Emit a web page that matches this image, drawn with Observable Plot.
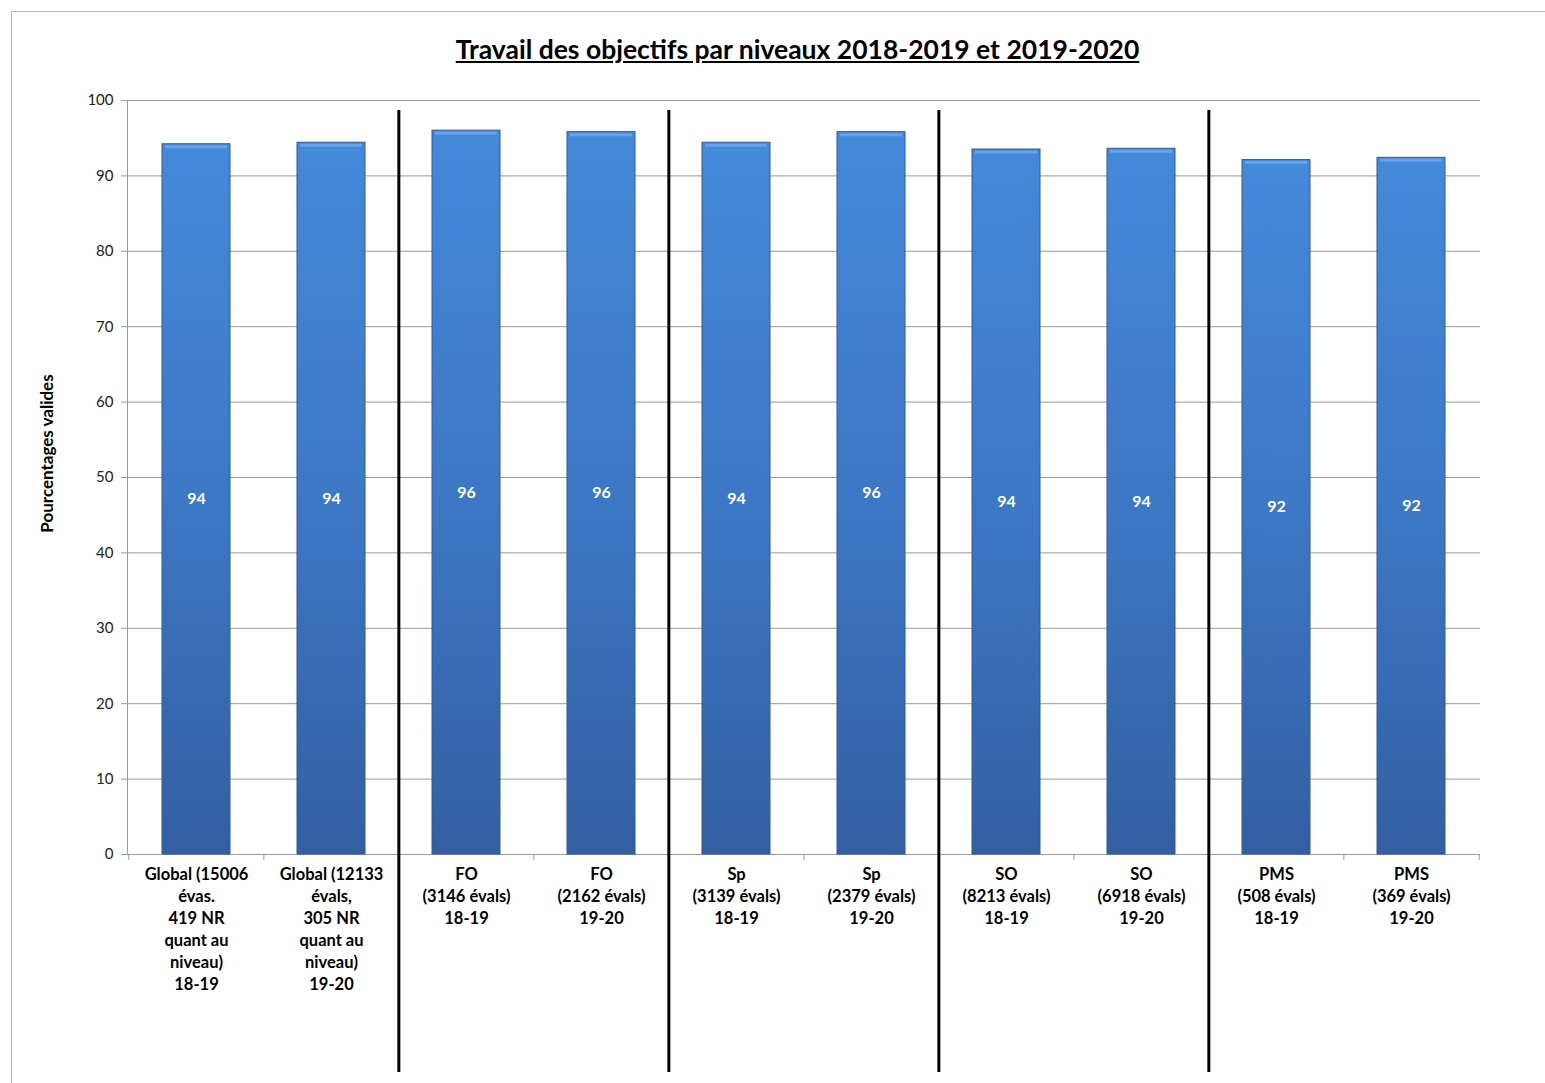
<!DOCTYPE html>
<html><head><meta charset="utf-8">
<script src="https://cdn.jsdelivr.net/npm/d3@7"></script>
<script src="https://cdn.jsdelivr.net/npm/@observablehq/plot@0.6"></script>
<style>
body{margin:0;background:#fff;font-family:Lato,"Open Sans",sans-serif;}
#wrap{position:relative;width:1545px;height:1083px;overflow:hidden;}
#border{position:absolute;left:11px;top:11px;width:1600px;height:1200px;border-top:1px solid #b8b8b8;border-left:1px solid #b8b8b8;pointer-events:none;}
#title{height:90px;box-sizing:border-box;padding-top:34px;padding-left:50px;text-align:center;font-size:26.5px;line-height:30px;font-weight:bold;text-decoration:underline;color:#000;}
</style></head>
<body>
<svg width="0" height="0" style="position:absolute">
  <defs>
    <linearGradient id="barGrad" x1="0" y1="0" x2="0" y2="1">
      <stop offset="0" stop-color="#4489da"/>
      <stop offset="0.5" stop-color="#3d78c6"/>
      <stop offset="1" stop-color="#335fa2"/>
    </linearGradient>
  </defs>
</svg>
<div id="wrap">
  <div id="border"></div>
  <div id="title">Travail des objectifs par niveaux 2018-2019 et 2019-2020</div>
  <div id="chart"></div>
</div>
<script>
const categories = [
  "Global (15006\névas.\n419 NR\nquant au\nniveau)\n18-19",
  "Global (12133\névals,\n305 NR\nquant au\nniveau)\n19-20",
  "FO\n(3146 évals)\n18-19",
  "FO\n(2162 évals)\n19-20",
  "Sp\n(3139 évals)\n18-19",
  "Sp\n(2379 évals)\n19-20",
  "SO\n(8213 évals)\n18-19",
  "SO\n(6918 évals)\n19-20",
  "PMS\n(508 évals)\n18-19",
  "PMS\n(369 évals)\n19-20"
];
const values = [94.2, 94.4, 96.0, 95.8, 94.4, 95.8, 93.5, 93.6, 92.1, 92.4];
const valueLabels = ["94", "94", "96", "96", "94", "96", "94", "94", "92", "92"];
const groupStarts = [categories[2], categories[4], categories[6], categories[8]];
const yTicks = [0, 10, 20, 30, 40, 50, 60, 70, 80, 90, 100];
const yLabel = "Pourcentages valides";

const data = categories.map((c, i) => ({cat: c, value: values[i], label: valueLabels[i]}));

const W = 1545, H = 993, mL = 127, mR = 65, mT = 10, mB = 229;
const step = (W - mL - mR) / categories.length;

const chart = Plot.plot({
  width: W, height: H,
  marginLeft: mL, marginRight: mR, marginTop: mT, marginBottom: mB,
  style: {fontFamily: "Lato, 'Open Sans', sans-serif", background: "transparent", overflow: "visible"},
  x: {domain: categories, paddingInner: 0.5, paddingOuter: 0.25},
  y: {domain: [0, 100], ticks: yTicks},
  marks: [
    Plot.gridY(yTicks, {stroke: "#9a9a9a", strokeOpacity: 1, strokeWidth: 1}),
    Plot.axisY(yTicks, {tickSize: 6, tickPadding: 8, stroke: "#9a9a9a", fill: "#222", fontSize: 15, label: null}),
    Plot.axisX({tickSize: 0, tickPadding: 10, fontSize: 16.5, fontWeight: "bold", fill: "#000", lineHeight: 1.33, label: null}),
    Plot.frame({anchor: "left", stroke: "#9a9a9a"}),
    Plot.ruleY([0], {stroke: "#9a9a9a"}),
    Plot.ruleX(categories, {x: d => d, y1: 0, y2: 0, dx: -step / 2, insetBottom: -6, stroke: "#9a9a9a"}),
    Plot.ruleX(categories.slice(-1), {x: d => d, y1: 0, y2: 0, dx: step / 2, insetBottom: -6, stroke: "#9a9a9a"}),
    Plot.barY(data, {x: "cat", y: "value", fill: "url(#barGrad)", stroke: "#2f5b99", strokeWidth: 1}),
    Plot.tickY(data, {x: "cat", y: "value", stroke: "#64a2ea", strokeWidth: 3, dy: 2.5, inset: 3}),
    Plot.text(data, {x: "cat", y: d => d.value / 2, text: "label", fill: "white", fontWeight: "bold", fontSize: 16}),
    Plot.ruleX(groupStarts, {x: d => d, dx: -step / 2, stroke: "#000", strokeWidth: 3, insetTop: 10, insetBottom: -218}),
    Plot.text([yLabel], {frameAnchor: "left", textAnchor: "middle", dx: -80, dy: -24, rotate: -90, fontWeight: "bold", fontSize: 17, fill: "#000"})
  ]
});
document.getElementById("chart").appendChild(chart);
</script>
</body></html>
